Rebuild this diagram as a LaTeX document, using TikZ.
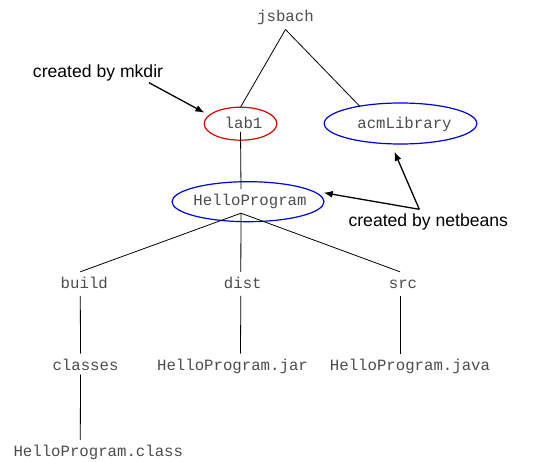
\documentclass[tikz,border=0pt]{standalone}
\usepackage{fontspec}
\setmainfont{Liberation Sans}
\setsansfont{Liberation Sans}
\setmonofont{Liberation Mono}
\usetikzlibrary{arrows.meta,shapes.geometric}
\tikzset{
  dir/.style={anchor=base, inner xsep=0pt, inner ysep=7.5pt, outer sep=0pt, text height=9pt, text depth=0pt, text=black!70, font=\fontsize{15.7}{18}\ttfamily},
  ring/.style={ellipse, draw, line width=1.2pt, inner sep=0pt, outer sep=0pt},
  note/.style={anchor=base, inner sep=0pt, outer sep=0pt, text height=12pt, text depth=0pt, font=\fontsize{17.6}{20}\sffamily},
  tree/.style={line width=0.8pt},
  hint/.style={line width=1.3pt, -{Latex[length=9pt,width=7pt]}}
}
\begin{document}
\begin{tikzpicture}[x=1pt,y=-1pt]
\useasboundingbox (0,0) rectangle (538,462);
% ellipses
\node[ring, red!85!black, minimum width=72.6pt, minimum height=33pt] (lab1e) at (240.5,123.7){};
\node[ring, blue!85!black, minimum width=152.6pt, minimum height=41pt] (acme) at (400.5,123.5){};
\node[ring, blue!85!black, minimum width=152pt, minimum height=40pt] (helloe) at (248,201.7){};
% directories and files
\node[dir] (jsbach) at (285.5,22){jsbach};
\node[dir] (lab1) at (243.5,128.3){lab1};
\node[dir] (acm) at (404.5,128.7){acmLibrary};
\node[dir] (hello) at (250,205.7){HelloProgram};
\node[dir] (build) at (84.3,288.3){build};
\node[dir] (dist) at (242.8,288.3){dist};
\node[dir] (src) at (403,288.3){src};
\node[dir] (classes) at (85.5,370){classes};
\node[dir] (jar) at (232.5,370){HelloProgram.jar};
\node[dir] (java) at (410,370){HelloProgram.java};
\node[dir] (class) at (98.3,456.7){HelloProgram.class};
\draw[tree](jsbach.south) -- (lab1e.north);
\draw[tree](jsbach.south) -- (acme.157);
\draw[tree]([xshift=-3pt,yshift=4pt]lab1.south) -- ([xshift=-9pt]hello.north);
\draw[tree]([xshift=-9pt]hello.south) -- ([xshift=-4pt]build.north);
\draw[tree]([xshift=-9pt]hello.south) -- ([xshift=-2pt]dist.north);
\draw[tree]([xshift=-9pt]hello.south) -- ([xshift=-3pt]src.north);
\draw[tree]([xshift=-4pt]build.south) -- ([xshift=-5pt]classes.north);
\draw[tree]([xshift=-2pt]dist.south) -- ([xshift=8pt]jar.north);
\draw[tree]([xshift=-3pt]src.south) -- ([xshift=-10pt]java.north);
\draw[tree]([xshift=-5pt,yshift=3pt]classes.south) -- ([xshift=-18pt]class.north);
% labels
\node[note] (mkdir) at (98,77.3){created by mkdir};
\node[note] (netbeans) at (428.3,226.7){created by netbeans};
\draw[hint]([xshift=51pt,yshift=-5.4pt]mkdir.south) -- (lab1e.165) [shorten >=5.5pt];
\draw[hint]([xshift=-9pt,yshift=5.4pt]netbeans.north) -- (helloe.10) [shorten >=12.7pt];
\draw[hint]([xshift=-9pt,yshift=5.4pt]netbeans.north) -- (acme.245) [shorten >=8.6pt];
\end{tikzpicture}
\end{document}
